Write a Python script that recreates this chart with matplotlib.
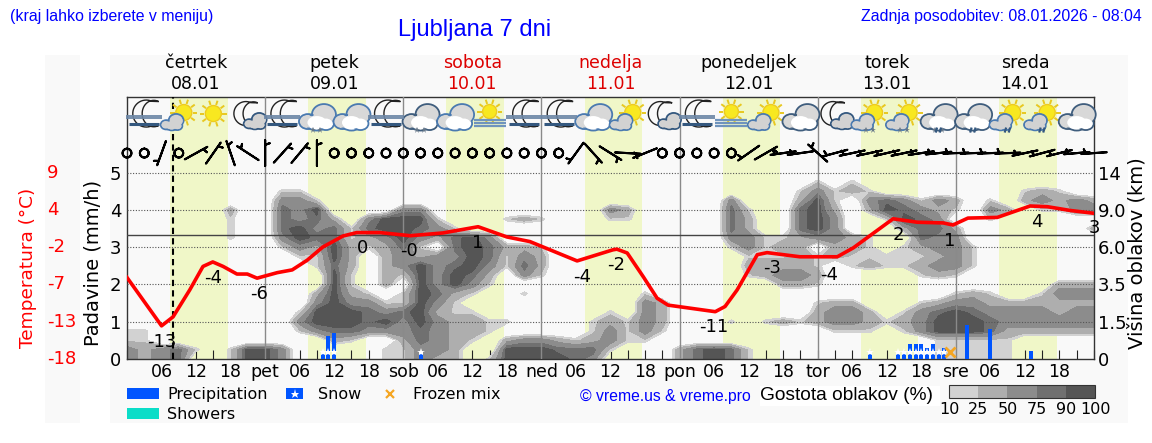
import numpy as np
from matplotlib import pyplot as plt
from matplotlib.cm import ScalarMappable
from matplotlib.colors import BoundaryNorm, ListedColormap
from matplotlib.patches import Ellipse, Polygon, Rectangle

# ---- data ----
day_names = ["četrtek", "petek", "sobota", "nedelja", "ponedeljek", "torek", "sreda"]
day_dates = ["08.01", "09.01", "10.01", "11.01", "12.01", "13.01", "14.01"]
day_short = ["pet", "sob", "ned", "pon", "tor", "sre"]
left_ticks = [0, 1, 2, 3, 4, 5]
temp_ticks = ["-18", "-13", "-7", "-2", "4", "9"]
height_ticks = ["0", "1.5", "3.5", "6.0", "9.0", "14"]
density_levels = [10, 25, 50, 75, 90, 100]
density_colors = ["#d2d2d2", "#aeaeae", "#8c8c8c", "#707070", "#555555"]

temp_hours = [0, 6, 8, 10.9, 13.2, 14.9, 16.7, 19.1, 20.9, 22.6, 26.1, 28.7, 31.3, 34, 37.5, 39.9, 44, 49.2,
              54.9, 61, 66, 70, 78.2, 84.4, 85.1, 86.9, 89.7, 92.1, 94, 102.2, 103.9, 106, 109.5, 111.2,
              116.9, 123.4, 126.2, 133.1, 137.3, 141.8, 143.5, 146.1, 151.2, 156.9, 159.9, 163.9, 167.9]
temp_values = [-6.2, -13.2, -11.9, -8.0, -4.6, -3.95, -4.6, -5.7, -5.7, -6.3, -5.5, -5.1, -3.7, -1.8, -0.2, 0.3,
               0.3, -0.15, 0.25, 1.15, -0.33, -1.0, -3.8, -2.2, -2.1, -2.65, -6.1, -9.2, -10.2, -11.15, -10.4,
               -8.0, -2.9, -2.6, -3.2, -3.2, -1.9, 2.3, 1.8, 1.7, 1.4, 2.4, 2.5, 4.15, 4.05, 3.5, 3.1]

label_hours = [6, 15, 23, 41, 49, 61, 79, 85, 102, 112, 122, 134, 143, 158, 168]
label_temps = [-13.4, -4.1, -6.4, 0.24, -0.2, 0.97, -3.95, -2.2, -11.2, -2.65, -3.7, 2.1, 1.26, 4.0, 3.1]

snow_hours = [34, 35, 36, 51, 129, 134, 135, 136, 137, 138, 139, 140, 141, 142]
snow_values = [0.2, 0.62, 0.69, 0.15, 0.13, 0.13, 0.2, 0.4, 0.4, 0.4, 0.29, 0.4, 0.15, 0.29]
rain_hours = [146, 150, 157]
rain_values = [0.91, 0.8, 0.21]
mix_hours = [143]

# one icon every 6 hours, starting at 03:00 on the first day
icon_kinds = ["moonfog", "suncloud", "sun", "mooncloud", "moonfog", "cloudblue", "cloudblue", "moonfog",
              "clouddark", "cloudblue", "sunfog", "moonfog", "moonfog", "cloudblue", "suncloud", "mooncloud",
              "moonfog", "sunfog", "suncloud", "clouddark", "mooncloud", "suncloud", "suncloud", "clouddark",
              "clouddark", "suncloud", "suncloud", "clouddark"]
icon_extra = {5: "snow", 8: "snow", 21: "snow", 22: "snow", 23: "both", 24: "rain", 25: "rain", 26: "rain"}

# wind every 3 hours, direction the barb end points to, speed 0 is calm
wind_dirs = [0, 0, 200, 0, 61, 35, 341, 303, 0, 42, 40, 0, 0, 0, 0, 0, 0, 0, 0, 0, 0, 0, 0, 0, 0, 0, 216, 138, 122,
             93, 248, 0, 0, 0, 0, 0, 235, 60, 262, 262, 312, 255, 258, 258, 257, 258, 262, 264, 268, 268, 268,
             268, 258, 255, 256, 265, 266]
wind_speeds = [0, 0, 5, 0, 5, 5, 5, 5, 5, 5, 5, 5, 0, 0, 0, 0, 0, 0, 0, 0, 0, 0, 0, 0, 0, 0, 5, 5, 5,
               5, 5, 0, 0, 0, 0, 0, 5, 5, 5, 5, 5, 5, 5, 5, 5, 5, 5, 5, 5, 5, 5,
               5, 5, 5, 5, 5, 5]

# cloud density bands (0 none ... 5 darkest), one column per 3 h, first row is the top at y=5
cloud_rows = [
    "0000000000 0000000000 0000000000 0000000000 0000000000 0000000",
    "0000000000 0000000000 0000000000 0000000000 1010000000 0000000",
    "0000000001 1000000000 0000000000 0000000001 3121000000 0012100",
    "0000000003 3100000000 0000000000 0000030002 5103431320 1023232",
    "0000002004 3500003300 0000000032 0000041004 5202543210 3201133",
    "0000001004 3420355510 0012100011 0000042004 5300154300 1000000",
    "0000001004 5341455431 0000000000 0000042004 5300024420 0000002",
    "0000001003 5441235324 5300000000 0000033112 3321004330 0000000",
    "0000000001 3252124104 5422100000 0000013122 0221012331 0000000",
    "0000000000 1152023233 5413200000 0000001112 1211111231 0000000",
    "0000000000 0142023534 5314200000 0000002222 1012112331 0000000",
    "0000000000 0051021535 4203100000 0000001233 2000001210 0000000",
    "0000000000 0051020535 3100000000 0000000022 1000000000 0000222",
    "0000000000 0252101542 1001000000 1000000000 0000000012 1001333",
    "0000000000 0353311531 0000000000 3200000000 1220001233 2222222",
    "0000000000 1555434521 1000000010 3200000000 2332013454 3333233",
    "0000000000 3555453532 2110000121 3200010121 2332123555 4333333",
    "1100000000 1344333432 2100000131 3100000000 0111013555 4222222",
    "1100000000 0021002432 1023321231 1000000000 0000000111 1100000",
    "3234101553 0000011332 0055544410 0024541000 0000000111 1100000",
    "3234001553 0000011322 0155554300 0024541000 0000000111 1100000",
]
band_density = [-30, 20, 40, 65, 84, 99]

# ---- figure ----
fig = plt.figure(figsize=(11.52, 4.43), dpi=100, facecolor="white")
W, H = 1152, 443

# backdrop and all loose text in pixel coordinates
bg = fig.add_axes([0, 0, 1, 1], zorder=0)
bg.set_xlim(0, W)
bg.set_ylim(H, 0)
bg.axis("off")
bg.add_patch(Rectangle((110, 55), 1018, 368, color="#f9f9f9", lw=0))
bg.add_patch(Rectangle((45, 55), 35, 368, color="#f9f9f9", lw=0))

ax = fig.add_axes([127 / W, (H - 359) / H, 967 / W, 262 / H], zorder=2, facecolor="#f9f9f9")
PX_H = 967 / 168      # pixels per hour
PX_V = 37.3           # pixels per y unit
ax.set_xlim(0, 168)
ax.set_ylim(0, 262 / PX_V)


def temp_y(t):
    return (np.asarray(t) + 18) / 5.4


# daylight bands
for d in range(7):
    ax.axvspan(24 * d + 7.5, 24 * d + 17.5, color="#f0f7c8", lw=0, zorder=1)

# clouds
grid = np.array([[band_density[int(c)] for c in row.replace(" ", "")] for row in cloud_rows[::-1]])
cloud_h = np.arange(grid.shape[1]) * 3
cloud_v = np.arange(grid.shape[0]) * 0.25
ax.contourf(cloud_h, cloud_v, grid, levels=density_levels, colors=density_colors, zorder=2)

# grid lines, day lines
ax.set_yticks(left_ticks)
ax.set_yticklabels([str(v) for v in left_ticks], fontsize=13)
ax.tick_params(axis="y", length=0, pad=4)
for v in left_ticks[1:]:
    ax.axhline(v, color="#555555", lw=0.8, ls=(0, (1, 1.5)), zorder=3)
for d in range(1, 7):
    ax.axvline(24 * d, color="#8a8a8a", lw=1, zorder=3)
ax.axhline(temp_y(0), color="#444444", lw=1, zorder=3)
ax.axvline(8, color="black", lw=1.5, ls=(0, (3, 2)), zorder=4)

# x axis
xt = list(range(0, 169, 3))
xl = []
for h in xt:
    if h == 0 or h == 168 or h % 6:
        xl.append("")
    elif h % 24 == 0:
        xl.append(day_short[h // 24 - 1])
    else:
        xl.append("%02d" % (h % 24))
ax.set_xticks(xt)
ax.set_xticklabels(xl, fontsize=12.5)
ax.tick_params(axis="x", direction="in", length=6.5, width=0.8, pad=3, color="#222222")

# bars
ax.bar(snow_hours, snow_values, width=0.7, color="#0055ff", zorder=5)
ax.bar(rain_hours, rain_values, width=0.7, color="#0055ff", zorder=5)
ax.plot(snow_hours, [0.2] * len(snow_hours), ls="", marker="*", ms=6, color="white", mew=0, zorder=6)
ax.plot(mix_hours, [0.2], ls="", marker="x", ms=7, mew=2, color="#f5a623", zorder=6)

# temperature
ax.plot(temp_hours, temp_y(temp_values), color="#ff0000", lw=2.6, zorder=7, solid_joinstyle="round")
for h, t in zip(label_hours, label_temps):
    ax.annotate("%.0f" % t, (h, temp_y(t)), xytext=(0, -10.8), textcoords="offset points", ha="center", va="center",
                fontsize=13, zorder=8, annotation_clip=False)

# temperature scale, far left and red
ytrans = ax.get_yaxis_transform()
for v, lab in zip(left_ticks, temp_ticks):
    ax.text(-80 / 967, v, lab, transform=ytrans, color="red", fontsize=13, ha="left", va="center")

# right axis
ax2 = ax.twinx()
ax2.set_ylim(ax.get_ylim())
ax2.set_yticks(left_ticks)
ax2.set_yticklabels(height_ticks, fontsize=13)
ax2.tick_params(axis="y", length=0, pad=3)
ax2.patch.set_visible(False)

# wind barbs
wind_h = np.arange(len(wind_dirs)) * 3
rad = np.radians(wind_dirs)
spd = np.array(wind_speeds, dtype=float)
ax2.barbs(wind_h, np.full(len(wind_h), 5.52), -spd * np.sin(rad), -spd * np.cos(rad), length=6.1, pivot="middle",
          linewidth=1.5, color="black", fill_empty=False, clip_on=False, flip_barb=False,
          sizes={"emptybarb": 0.17, "height": 0.35, "spacing": 0.12}, zorder=9)


# ---- weather icons, sizes given in pixels around the icon centre ----
def pt(h0, dx, dy):
    return h0 + dx / PX_H, 6.5 - dy / PX_V


def oval(h0, dx, dy, w, h, face, edge=None, lw=1.2, z=10):
    x, y = pt(h0, dx, dy)
    ax2.add_patch(Ellipse((x, y), w / PX_H, h / PX_V, fc=face, ec=edge if edge else "none", lw=lw, zorder=z,
                          clip_on=False))


def stroke(h0, xs, ys, color, lw, z=10):
    p = [pt(h0, a, b) for a, b in zip(xs, ys)]
    ax2.plot([q[0] for q in p], [q[1] for q in p], color=color, lw=lw, zorder=z, clip_on=False, solid_capstyle="butt")


def draw_sun(h0, dx, dy, r=8):
    for a in np.radians(np.arange(0, 360, 36)):
        stroke(h0, [dx + (r + 1) * np.cos(a), dx + (r + 5.5) * np.cos(a)], [dy + (r + 1) * np.sin(a), dy + (r + 5.5) * np.sin(a)],
               "#e8c820", 1.4)
    oval(h0, dx, dy, 2 * r, 2 * r, "#f8e820", "#eecb20", 1)


def draw_moon(h0, dx, dy, r=13.5):
    a = np.radians(np.linspace(65, 295, 30))
    b = np.radians(np.linspace(295, 65, 30))
    pts = [pt(h0, dx + r * np.cos(t), dy - r * np.sin(t)) for t in a]
    pts += [pt(h0, dx + 7.5 + 0.86 * r * np.cos(t), dy - r * np.sin(t) * 0.98) for t in b]
    ax2.add_patch(Polygon(pts, closed=True, fc="#f9f9f9", ec="#222222", lw=1, zorder=10, clip_on=False))


def draw_cloud(h0, dx, dy, s, back, front, edge):
    for ox, oy, w, h, col in [(7, -5, 24, 21, back), (-9, 2, 18, 15, back), (0, 3, 22, 16, front), (9, 4, 16, 13, front)]:
        oval(h0, dx + ox * s, dy + oy * s, w * s, h * s, col, edge, 1.3)
    for ox, oy, w, h, col in [(7, -4, 21, 18, back), (-9, 2, 15, 12, back), (0, 3, 19, 13, front), (9, 4, 13, 10, front)]:
        oval(h0, dx + ox * s, dy + oy * s, w * s, h * s, col)


def draw_fog(h0, c1, c2):
    for dy, col, lw, half in [(-1, c1, 1.3, 18), (1.5, c1, 1.3, 18), (7, c2, 2.2, 15)]:
        stroke(h0, [-half, half], [dy, dy], col, lw, z=11)


for i, kind in enumerate(icon_kinds):
    h0 = 3 + 6 * i
    if kind == "moonfog":
        draw_moon(h0, 2, -3)
        draw_fog(h0, "#6d87a6", "#34587f")
    elif kind == "sun":
        draw_sun(h0, 0, -3)
    elif kind == "sunfog":
        draw_sun(h0, 0, -5, 7)
        for dy, col in [(3, "#6f94bd"), (6, "#6f94bd"), (9, "#6f94bd")]:
            stroke(h0, [-16, 16], [dy, dy], col, 1.6, z=11)
    elif kind == "suncloud":
        draw_sun(h0, 5, -4)
        draw_cloud(h0, -7, 7, 0.62, "#d2d2d2", "#d2d2d2", "#4a7ab0")
    elif kind == "mooncloud":
        draw_moon(h0, -2, -3, 12)
        draw_cloud(h0, 7, 6, 0.62, "#d2d2d2", "#d2d2d2", "#34587f")
    elif kind == "cloudblue":
        draw_cloud(h0, 0, 3, 1, "#d8d8d8", "white", "#4a7ab0")
    elif kind == "clouddark":
        draw_cloud(h0, 0, 3, 1, "#d8d8d8", "white", "#3f5d7d")
    extra = icon_extra.get(i)
    if extra in ("snow", "both"):
        for dx in (-4, 3):
            x, y = pt(h0, dx, 13)
            ax2.plot([x], [y], marker="*", ms=5, color="#667788", mew=0, zorder=12, clip_on=False)
    if extra in ("rain", "both"):
        for dx in (-2, 2):
            stroke(h0, [dx - 1, dx + 0.5], [16, 11], "#34587f", 1.6, z=12)

for sp in ax.spines.values():
    sp.set_color("#333333")
    sp.set_linewidth(1)
for sp in ax2.spines.values():
    sp.set_visible(False)

# ---- header text ----
bg.text(10, 16, "(kraj lahko izberete v meniju)", color="#0000ff", fontsize=11.4, family="Liberation Sans", va="center")
bg.text(1142, 16, "Zadnja posodobitev: 08.01.2026 - 08:04", color="#0000ff", fontsize=11.45,
        family="Liberation Sans", ha="right", va="center")
bg.text(474.5, 30, "Ljubljana 7 dni", color="#0000ff", fontsize=17, family="Liberation Sans", ha="center", va="center")
for d, (name, date) in enumerate(zip(day_names, day_dates)):
    col = "#dd0000" if name in ("sobota", "nedelja") else "black"
    hx = 127 + PX_H * (24 * d + 12)
    bg.text(hx, 63, name, color=col, fontsize=12.5, ha="center", va="center")
    bg.text(hx, 84, date, color=col, fontsize=12.5, ha="center", va="center")

bg.text(28, 267.5, "Temperatura (°C)", color="red", fontsize=13.3, rotation=90, ha="center", va="center")
bg.text(93, 263, "Padavine (mm/h)", fontsize=14, rotation=90, ha="center", va="center")
bg.text(1137, 253, "Višina oblakov (km)", fontsize=14, rotation=90, ha="center", va="center")

# ---- legend ----
bg.add_patch(Rectangle((127, 388), 32, 11, color="#0055ff", lw=0))
bg.add_patch(Rectangle((127, 408), 32, 11, color="#0bddc8", lw=0))
bg.add_patch(Rectangle((286, 388), 17, 11, color="#0055ff", lw=0))
bg.plot([294.5], [393.5], marker="*", ms=6.5, mew=0, color="white")
bg.plot([389.5], [394], marker="x", ms=6, mew=1.6, color="#f5a623")
bg.text(167, 394.5, "Precipitation", fontsize=11.5, va="center")
bg.text(318, 394.5, "Snow", fontsize=11.5, va="center")
bg.text(413, 394.5, "Frozen mix", fontsize=11.5, va="center")
bg.text(167, 414.5, "Showers", fontsize=11.5, va="center")
bg.text(580, 396, "© vreme.us & vreme.pro", color="#0000ff", fontsize=11.3, family="Liberation Sans", va="center")
bg.add_patch(Rectangle((760, 386), 180, 20, color="white", lw=0))
bg.text(760, 395, "Gostota oblakov (%)", fontsize=13.8, family="Liberation Sans", va="center")

cax = fig.add_axes([949 / W, (H - 398) / H, 146 / W, 13 / H], zorder=3)
sm = ScalarMappable(norm=BoundaryNorm(density_levels, 5), cmap=ListedColormap(density_colors))
cb = fig.colorbar(sm, cax=cax, orientation="horizontal", spacing="uniform", ticks=density_levels)
cb.ax.set_xticklabels([str(v) for v in density_levels], fontsize=11.5)
cb.ax.tick_params(length=0, pad=3)
cb.outline.set_edgecolor("#333333")

fig.savefig("out.png", dpi=100)
